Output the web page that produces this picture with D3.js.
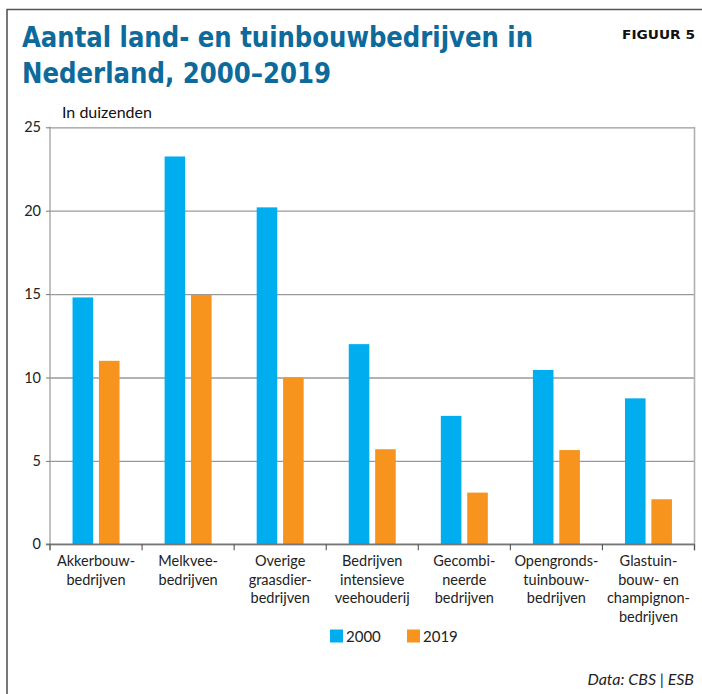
<!DOCTYPE html>
<html>
<head>
<meta charset="utf-8">
<script src="https://cdn.jsdelivr.net/npm/d3@7"></script>
<style>
  html, body { margin: 0; padding: 0; background: #fff; }
  svg { display: block; }
</style>
</head>
<body>
<svg id="chart" width="702" height="694"></svg>
<script>
const categories = [
  ["Akkerbouw-", "bedrijven"],
  ["Melkvee-", "bedrijven"],
  ["Overige", "graasdier-", "bedrijven"],
  ["Bedrijven", "intensieve", "veehouderij"],
  ["Gecombi-", "neerde", "bedrijven"],
  ["Opengronds-", "tuinbouw-", "bedrijven"],
  ["Glastuin-", "bouw- en", "champignon-", "bedrijven"]
];
const series = ["2000", "2019"];
const values2000 = [14.8, 23.25, 20.2, 12.0, 7.7, 10.45, 8.75];
const values2019 = [11.0, 14.95, 10.0, 5.7, 3.1, 5.65, 2.7];
const yTicks = [0, 5, 10, 15, 20, 25];
const colors = ["#00adee", "#f7941e"];

const svg = d3.select("#chart");
const W = 702, H = 694;
const m = { left: 50, right: 694.5, top: 127.3, bottom: 544.3 };

// outer frame (top + left)
svg.append("path")
  .attr("d", `M7,${H} L7,9.5 L${W},9.5`)
  .attr("fill", "none").attr("stroke", "#555").attr("stroke-width", 1.6);

// title
const titleFont = "'Liberation Sans Narrow','DejaVu Sans Condensed','Roboto',sans-serif";
svg.append("text").attr("x", 22).attr("y", 47)
  .attr("font-family", titleFont).attr("font-weight", 700).attr("font-size", 29)
  .attr("fill", "#0d6a9a").attr("textLength", 511).attr("lengthAdjust", "spacingAndGlyphs")
  .text("Aantal land- en tuinbouwbedrijven in");
svg.append("text").attr("x", 22).attr("y", 83)
  .attr("font-family", titleFont).attr("font-weight", 700).attr("font-size", 29)
  .attr("fill", "#0d6a9a").attr("textLength", 309).attr("lengthAdjust", "spacingAndGlyphs")
  .text("Nederland, 2000–2019");
svg.append("text").attr("x", 695).attr("y", 38.5).attr("text-anchor", "end")
  .attr("font-family", "'DejaVu Sans',sans-serif").attr("font-weight", 700).attr("font-size", 12.5)
  .attr("fill", "#111").attr("textLength", 73).attr("lengthAdjust", "spacingAndGlyphs")
  .text("FIGUUR 5");

svg.append("text").attr("x", 62).attr("y", 118)
  .attr("font-family", "'Liberation Sans Narrow','Lato',sans-serif").attr("font-size", 16)
  .attr("fill", "#111").text("In duizenden");

// scales
const x0 = d3.scaleBand().domain(d3.range(categories.length)).range([m.left, m.right]).paddingInner(0).paddingOuter(0);
const x1 = d3.scaleBand().domain(series).range([x0.bandwidth()/2 - 23.5, x0.bandwidth()/2 + 23.5]).paddingInner(0.22);
const y = d3.scaleLinear().domain([0, 25]).range([m.bottom, m.top]);

// gridlines
svg.append("g").attr("transform", `translate(${m.left},0)`)
  .call(d3.axisLeft(y).tickValues(yTicks).tickSize(-(m.right - m.left)).tickFormat(""))
  .call(g => g.select(".domain").remove())
  .call(g => g.selectAll("line").attr("stroke", "#9a9a9a").attr("stroke-width", 1.3));

// plot box right/left
svg.append("line").attr("x1", m.right).attr("x2", m.right).attr("y1", m.top - 0.6).attr("y2", m.bottom + 6)
  .attr("stroke", "#b0b0b0").attr("stroke-width", 1.6);
svg.append("line").attr("x1", m.left).attr("x2", m.left).attr("y1", m.top - 0.6).attr("y2", m.bottom + 6)
  .attr("stroke", "#a0a0a0").attr("stroke-width", 1.3);

// y tick labels
svg.append("g").attr("transform", `translate(${m.left},0)`)
  .call(d3.axisLeft(y).tickValues(yTicks).tickSize(4).tickPadding(5))
  .call(g => g.select(".domain").remove())
  .call(g => g.selectAll("line").attr("stroke", "#777"))
  .call(g => g.selectAll("text").attr("font-family", "'Lato','Open Sans',sans-serif")
    .attr("font-size", 14.5).attr("fill", "#222"));

// bars
const data = categories.map((c, i) => ({ i, vals: [values2000[i], values2019[i]] }));
const grp = svg.append("g").selectAll("g").data(data).join("g")
  .attr("transform", d => `translate(${x0(d.i)},0)`);
grp.selectAll("rect").data(d => d.vals.map((v, k) => ({ v, s: series[k], k })))
  .join("rect")
  .attr("x", d => x1(d.s)).attr("width", x1.bandwidth())
  .attr("y", d => y(d.v)).attr("height", d => y(0) - y(d.v))
  .attr("fill", d => colors[d.k]);

// x axis
svg.append("line").attr("x1", m.left - 4).attr("x2", m.right).attr("y1", m.bottom).attr("y2", m.bottom)
  .attr("stroke", "#777").attr("stroke-width", 1.4);
const bounds = d3.range(categories.length + 1).map(i => i < categories.length ? x0(i) : m.right);
svg.append("g").selectAll("line").data(bounds).join("line")
  .attr("x1", d => d).attr("x2", d => d).attr("y1", m.bottom).attr("y2", m.bottom + 6)
  .attr("stroke", "#555").attr("stroke-width", 1.1);

// category labels
const lab = svg.append("g").selectAll("text").data(categories).join("text")
  .attr("x", (d, i) => x0(i) + x0.bandwidth()/2).attr("y", 566)
  .attr("text-anchor", "middle")
  .attr("font-family", "'Liberation Sans Narrow','Lato',sans-serif").attr("font-size", 14.5)
  .attr("fill", "#222");
lab.selectAll("tspan").data(d => d).join("tspan")
  .attr("x", function() { return this.parentNode.getAttribute("x"); })
  .attr("dy", (d, i) => i === 0 ? 0 : 18.6)
  .text(d => d);

// legend
const legX = [330, 407];
const leg = svg.append("g").selectAll("g").data(series).join("g")
  .attr("transform", (d, i) => `translate(${legX[i]},629.5)`);
leg.append("rect").attr("width", 13).attr("height", 13).attr("fill", (d, i) => colors[i]);
leg.append("text").attr("x", 16).attr("y", 12.5)
  .attr("font-family", "'Lato','Open Sans',sans-serif").attr("font-size", 15).attr("fill", "#222")
  .text(d => d);

// source
svg.append("text").attr("x", 694).attr("y", 685).attr("text-anchor", "end")
  .attr("font-family", "'Liberation Sans Narrow','Lato',sans-serif").attr("font-style", "italic")
  .attr("font-size", 16).attr("fill", "#222").text("Data: CBS | ESB");
</script>
</body>
</html>
